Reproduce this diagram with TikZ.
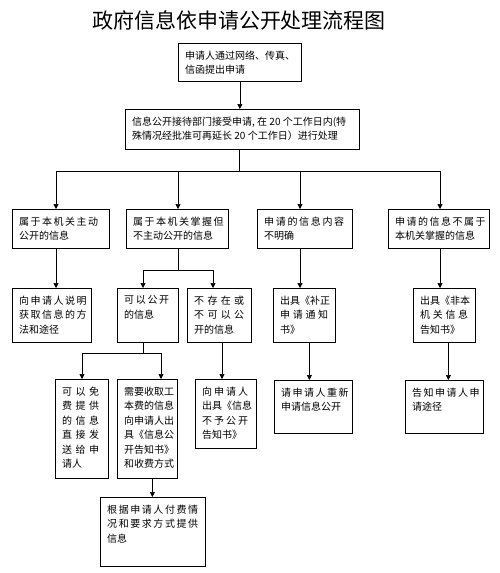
\documentclass[tikz,border=0pt]{standalone}
\usepackage{fontspec}
\newfontfamily\cjk{Noto Sans CJK SC}
\usetikzlibrary{arrows.meta}
\newcommand\spr[2]{\makebox[#1pt][s]{#2}}
\tikzset{
  box/.style={draw=black, line width=0.7pt, inner sep=0pt, fill=white},
  txt/.style={inner sep=0pt, align=left, font={\cjk\fontsize{10pt}{14.5pt}\selectfont}},
  arr/.style={line width=0.7pt, -{Triangle[length=5pt,width=5pt]}},
  ln/.style={line width=0.7pt}
}
\newcommand\mybox[6]{%
  \node[box, anchor=north west, minimum width={(#4-#2)*1pt}, minimum height={(#5-#3)*1pt}] (#1) at (#2,#3) {};
  \node[txt, anchor=north west] (#1t) at ([shift={(7,7.5)}]#1.north west) {#6};
}
\begin{document}
\begin{tikzpicture}[x=1pt,y=-1pt]
\useasboundingbox (0,0) rectangle (500,573);
\node[inner sep=0pt, font={\cjk\fontsize{21pt}{21pt}\selectfont}] (title) at (239,20) {政府信息依申请公开处理流程图};

\mybox{b1}{178}{43}{301}{81}{申请人通过网络、传真、\\信函提出申请}
\mybox{b2}{125}{109}{359}{149}{信息公开接待部门接受申请, 在 20 个工作日内(特\\殊情况经批准可再延长 20 个工作日）进行处理}

\mybox{A}{12}{209}{109}{248}{\spr{78}{属 于 本 机 关 主 动}\\公开的信息}
\mybox{B}{126}{209}{228}{248}{\spr{90}{属 于 本 机 关 掌 握 但}\\不主动公开的信息}
\mybox{C}{257}{209}{352}{248}{\spr{80}{申 请 的 信 息 内 容}\\不明确}
\mybox{D}{388}{209}{489}{248}{\spr{90}{申 请 的 信 息 不 属 于}\\本机关掌握的信息}

\mybox{A1}{12}{288}{91}{342}{\spr{65}{向 申 请 人 说 明}\\\spr{65}{获 取 信 息 的 方}\\法和途径}
\mybox{B1}{117}{288}{178}{342}{\spr{45}{可 以 公 开}\\的信息}
\mybox{B2}{187}{288}{251}{342}{\spr{50}{不 存 在 或}\\\spr{50}{不 可 以 公}\\开的信息}
\mybox{C1}{273}{288}{335}{342}{出具《补正\\\spr{48}{申 请 通 知}\\书》}
\mybox{D1}{413}{288}{475}{342}{出具《非本\\\spr{48}{机 关 信 息}\\告知书》}

\mybox{B1a}{55}{379}{108}{478}{\spr{37}{可 以 免}\\\spr{37}{费 提 供}\\\spr{37}{的 信 息}\\\spr{37}{直 接 发}\\\spr{37}{送 给 申}\\请人}
\mybox{B1b}{117}{379}{177}{478}{需要收取工\\本费的信息\\向申请人出\\具《信息公\\开告知书》\\和收费方式}
\mybox{B2a}{195}{379}{256}{448}{\spr{46}{向 申 请 人}\\出具《信息\\\spr{46}{不 予 公 开}\\告知书》}
\mybox{C2}{274}{380}{352}{433}{\spr{67}{请 申 请 人 重 新}\\申请信息公开}
\mybox{D2}{405}{380}{483}{433}{\spr{65}{告 知 申 请 人 申}\\请途径}
\mybox{F}{100}{497}{205}{566}{\spr{91}{根 据 申 请 人 付 费 情}\\\spr{91}{况 和 要 求 方 式 提 供}\\信息}

% connectors
\draw[arr] (b1.south) -- (b1.south |- b2.north);
\coordinate (j0) at (239,171);
\coordinate (hL) at (56,171);
\coordinate (hB) at (178,171);
\coordinate (hC) at (300,171);
\coordinate (hR) at (440,171);
\draw[ln] (b2.south -| j0) -- (j0);
\draw[ln] (hL) -- (hR);
\draw[arr] (hL) -- (hL |- A.north);
\draw[arr] (hB) -- (hB |- B.north);
\draw[arr] (hC) -- (hC |- C.north);
\draw[arr] (hR) -- (hR |- D.north);

\draw[arr] (hL |- A.south) -- (hL |- A1.north);
\coordinate (jB) at (178,270);
\coordinate (jB1) at (143,270);
\coordinate (jB2) at (213,270);
\draw[ln] (hB |- B.south) -- (jB);
\draw[ln] (jB1) -- (jB2);
\draw[arr] (jB1) -- (jB1 |- B1.north);
\draw[arr] (jB2) -- (jB2 |- B2.north);
\draw[arr] (hC |- C.south) -- (hC |- C1.north);
\draw[arr] (hR |- D.south) -- (hR |- D1.north);

\coordinate (jC) at (143,353);
\coordinate (jC1) at (82,353);
\coordinate (jC2) at (161,353);
\draw[ln] (jB1 |- B1.south) -- (jC);
\draw[ln] (jC1) -- (jC2);
\draw[arr] (jC1) -- (jC1 |- B1a.north);
\draw[arr] (jC2) -- (jC2 |- B1b.north);
\coordinate (kB2) at (222,342);
\draw[arr] (kB2) -- (kB2 |- B2a.north);
\draw[arr] ([xshift=5pt]B1b.south) -- ([xshift=5pt]B1b.south |- F.north);
\draw[arr] ([xshift=5pt]C1.south) -- ([xshift=5pt]C1.south |- C2.north);
\draw[arr] ([xshift=4pt]D1.south) -- ([xshift=4pt]D1.south |- D2.north);
\end{tikzpicture}
\end{document}
